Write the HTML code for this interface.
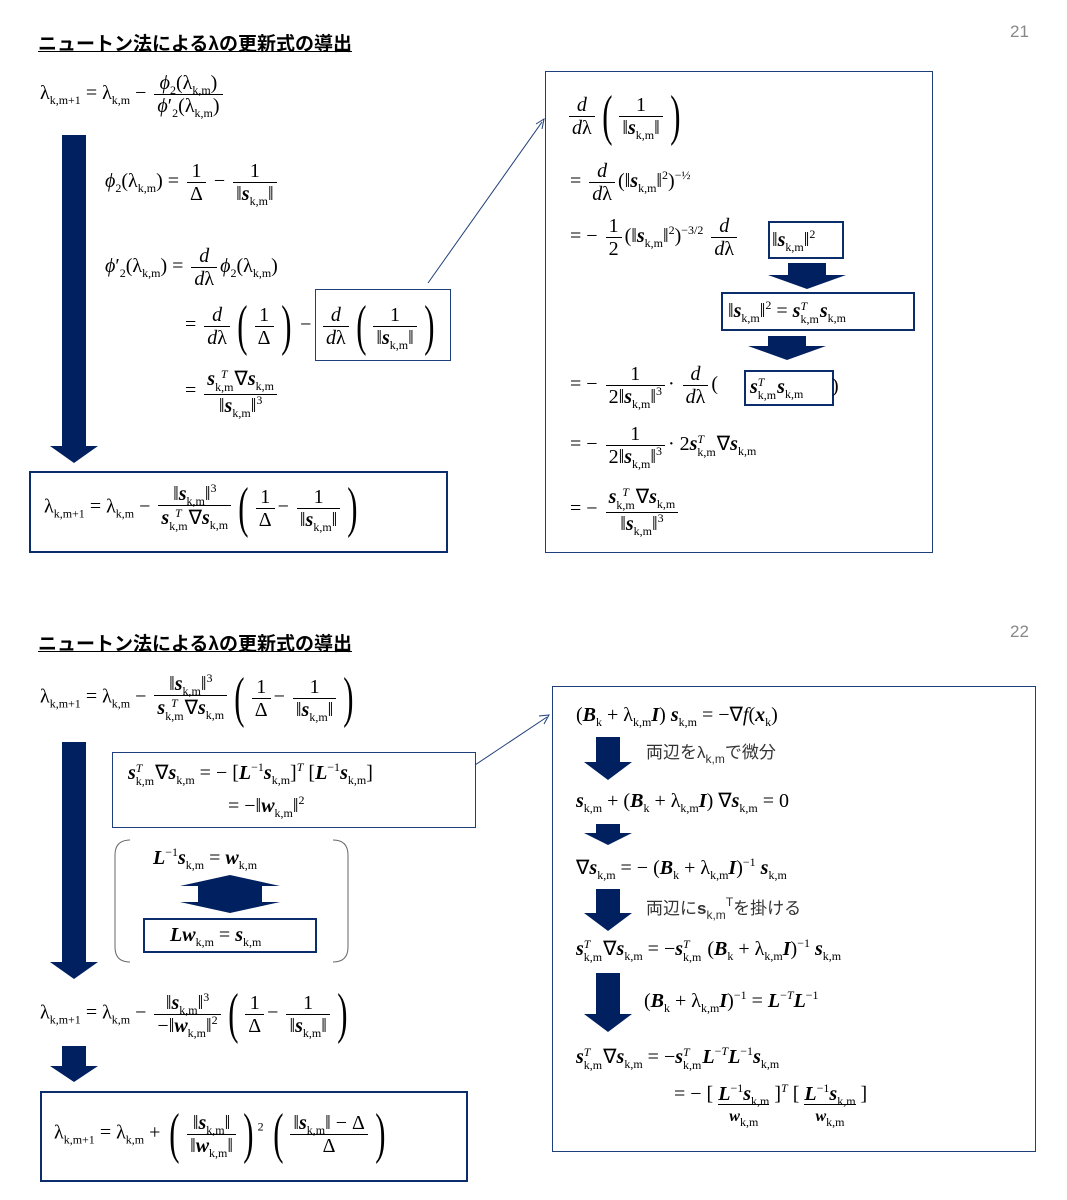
<!DOCTYPE html>
<html><head><meta charset="utf-8"><style>
body{margin:0;width:1067px;height:1200px;background:#fff;position:relative;overflow:hidden;font-family:"Liberation Serif",serif;color:#000}
.a{position:absolute;white-space:nowrap;font-size:20px;line-height:1}
.t{position:absolute;font-family:"Liberation Sans","Noto Sans CJK JP",sans-serif;font-weight:bold;font-size:19px;text-decoration:underline;white-space:nowrap}
.pg{position:absolute;font-family:"Liberation Sans",sans-serif;font-size:17px;color:#888}
sub{font-size:12px;vertical-align:-5px;line-height:0}
sup{font-size:12px;vertical-align:8px;line-height:0}
.ss{display:inline-flex;flex-direction:column;font-size:12px;vertical-align:middle;line-height:1.05;margin-right:1px}
.fr{display:inline-flex;flex-direction:column;vertical-align:middle;text-align:center;margin:0 3px}
.fr>span{display:block;padding:1px 3px}
.fr>span:first-child{border-bottom:1px solid #000}
.bp{font-size:56px;vertical-align:middle;font-weight:100;transform:scaleX(.55);display:inline-block;line-height:1}
.bx{position:absolute;border:2px solid #0b2d6b}
.tb{position:absolute;border:1px solid #1f3f7a}
b i,i b{font-weight:bold}
.jp{font-family:"Liberation Sans","Noto Sans CJK JP",sans-serif;font-size:17px;color:#333}
</style></head><body>
<div class="t" style="left:38px;top:29px">ニュートン法によるλの更新式の導出</div>
<div class="pg" style="left:1010px;top:22px">21</div>

<div class="a" style="left:40px;top:72px">λ<sub>k,m+1</sub> = λ<sub>k,m</sub> − <span class="fr"><span><i>ϕ</i><sub>2</sub>(λ<sub>k,m</sub>)</span><span><i>ϕ</i>′<sub>2</sub>(λ<sub>k,m</sub>)</span></span></div>

<svg style="position:absolute;left:0;top:0" width="1067" height="1200">
<g fill="#002060">
<rect x="62" y="135" width="24" height="312"/><polygon points="50,446 98,446 74,463"/>
<rect x="62" y="742" width="24" height="222"/><polygon points="50,962 98,962 74,979"/>
<rect x="62" y="1046" width="24" height="22"/><polygon points="50,1066 98,1066 74,1082"/>
<rect x="788" y="263" width="38" height="12"/><polygon points="768,275 846,275 807,289"/>
<rect x="768" y="336" width="38" height="10"/><polygon points="748,346 826,346 787,360"/>
<polygon points="180,886 230,875 280,886 262,886 262,902 280,902 230,913 180,902 198,902 198,886"/>
<rect x="596" y="737" width="24" height="26"/><polygon points="584,762 632,762 608,780"/>
<rect x="596" y="824" width="24" height="10"/><polygon points="584,833 632,833 608,845"/>
<rect x="596" y="889" width="24" height="26"/><polygon points="584,913 632,913 608,931"/>
<rect x="596" y="973" width="24" height="42"/><polygon points="584,1014 632,1014 608,1032"/>
</g>
<g stroke="#1f3f7a" fill="none">
<line x1="428" y1="283" x2="542" y2="122"/><polyline points="536,124 544,119 542,129"/>
<line x1="475" y1="765" x2="547" y2="717"/><polyline points="539,716 549,715 544,724"/>
<path d="M130,840 Q115,840 115,855 L115,947 Q115,962 130,962" stroke="#666"/>
<path d="M333,840 Q348,840 348,855 L348,947 Q348,962 333,962" stroke="#666"/>
</g>
</svg>

<div class="a" style="left:105px;top:160px"><i>ϕ</i><sub>2</sub>(λ<sub>k,m</sub>) = <span class="fr"><span>1</span><span>Δ</span></span> − <span class="fr"><span>1</span><span>‖<b><i>s</i></b><sub>k,m</sub>‖</span></span></div>
<div class="a" style="left:105px;top:245px"><i>ϕ</i>′<sub>2</sub>(λ<sub>k,m</sub>) = <span class="fr"><span><i>d</i></span><span><i>d</i>λ</span></span><i>ϕ</i><sub>2</sub>(λ<sub>k,m</sub>)</div>
<div class="a" style="left:185px;top:298px">= <span class="fr"><span><i>d</i></span><span><i>d</i>λ</span></span><span class="bp">(</span><span class="fr"><span>1</span><span>Δ</span></span><span class="bp">)</span> −</div>
<div class="tb" style="left:315px;top:289px;width:134px;height:70px"></div>
<div class="a" style="left:320px;top:298px"><span class="fr"><span><i>d</i></span><span><i>d</i>λ</span></span><span class="bp">(</span><span class="fr"><span>1</span><span>‖<b><i>s</i></b><sub>k,m</sub>‖</span></span><span class="bp">)</span></div>
<div class="a" style="left:185px;top:367px">= <span class="fr"><span><b><i>s</i></b><span class="ss"><i>T</i><span>k,m</span></span>∇<b><i>s</i></b><sub>k,m</sub></span><span>‖<b><i>s</i></b><sub>k,m</sub>‖<sup>3</sup></span></span></div>

<div class="bx" style="left:29px;top:471px;width:415px;height:78px"></div>
<div class="a" style="left:44px;top:480px">λ<sub>k,m+1</sub> = λ<sub>k,m</sub> − <span class="fr"><span>‖<b><i>s</i></b><sub>k,m</sub>‖<sup>3</sup></span><span><b><i>s</i></b><span class="ss"><i>T</i><span>k,m</span></span>∇<b><i>s</i></b><sub>k,m</sub></span></span><span class="bp">(</span><span class="fr"><span>1</span><span>Δ</span></span>− <span class="fr"><span>1</span><span>‖<b><i>s</i></b><sub>k,m</sub>‖</span></span><span class="bp">)</span></div>

<div class="tb" style="left:545px;top:71px;width:386px;height:480px"></div>
<div class="a" style="left:566px;top:88px"><span class="fr"><span><i>d</i></span><span><i>d</i>λ</span></span><span class="bp">(</span><span class="fr"><span>1</span><span>‖<b><i>s</i></b><sub>k,m</sub>‖</span></span><span class="bp">)</span></div>
<div class="a" style="left:570px;top:160px">= <span class="fr"><span><i>d</i></span><span><i>d</i>λ</span></span>(‖<b><i>s</i></b><sub>k,m</sub>‖<sup>2</sup>)<sup>−½</sup></div>
<div class="a" style="left:570px;top:215px">= − <span class="fr"><span>1</span><span>2</span></span>(‖<b><i>s</i></b><sub>k,m</sub>‖<sup>2</sup>)<sup>−3/2</sup> <span class="fr"><span><i>d</i></span><span><i>d</i>λ</span></span></div>
<div class="bx" style="left:768px;top:221px;width:72px;height:34px"></div>
<div class="a" style="left:772px;top:230px">‖<b><i>s</i></b><sub>k,m</sub>‖<sup>2</sup></div>
<div class="bx" style="left:721px;top:292px;width:190px;height:35px"></div>
<div class="a" style="left:728px;top:300px">‖<b><i>s</i></b><sub>k,m</sub>‖<sup>2</sup> = <b><i>s</i></b><span class="ss"><i>T</i><span>k,m</span></span><b><i>s</i></b><sub>k,m</sub></div>
<div class="a" style="left:570px;top:363px">= − <span class="fr"><span>1</span><span>2‖<b><i>s</i></b><sub>k,m</sub>‖<sup>3</sup></span></span>· <span class="fr"><span><i>d</i></span><span><i>d</i>λ</span></span>(</div>
<div class="bx" style="left:744px;top:370px;width:86px;height:32px"></div>
<div class="a" style="left:750px;top:376px"><b><i>s</i></b><span class="ss"><i>T</i><span>k,m</span></span><b><i>s</i></b><sub>k,m</sub></div>
<div class="a" style="left:832px;top:376px">)</div>
<div class="a" style="left:570px;top:423px">= − <span class="fr"><span>1</span><span>2‖<b><i>s</i></b><sub>k,m</sub>‖<sup>3</sup></span></span>· 2<b><i>s</i></b><span class="ss"><i>T</i><span>k,m</span></span>∇<b><i>s</i></b><sub>k,m</sub></div>
<div class="a" style="left:570px;top:485px">= − <span class="fr"><span><b><i>s</i></b><span class="ss"><i>T</i><span>k,m</span></span>∇<b><i>s</i></b><sub>k,m</sub></span><span>‖<b><i>s</i></b><sub>k,m</sub>‖<sup>3</sup></span></span></div>

<!-- slide 22 -->
<div class="t" style="left:38px;top:629px">ニュートン法によるλの更新式の導出</div>
<div class="pg" style="left:1010px;top:622px">22</div>
<div class="a" style="left:40px;top:670px">λ<sub>k,m+1</sub> = λ<sub>k,m</sub> − <span class="fr"><span>‖<b><i>s</i></b><sub>k,m</sub>‖<sup>3</sup></span><span><b><i>s</i></b><span class="ss"><i>T</i><span>k,m</span></span>∇<b><i>s</i></b><sub>k,m</sub></span></span><span class="bp">(</span><span class="fr"><span>1</span><span>Δ</span></span>− <span class="fr"><span>1</span><span>‖<b><i>s</i></b><sub>k,m</sub>‖</span></span><span class="bp">)</span></div>
<div class="tb" style="left:112px;top:752px;width:362px;height:74px"></div>
<div class="a" style="left:128px;top:762px"><b><i>s</i></b><span class="ss"><i>T</i><span>k,m</span></span>∇<b><i>s</i></b><sub>k,m</sub> = − [<b><i>L</i></b><sup>−1</sup><b><i>s</i></b><sub>k,m</sub>]<sup><i>T</i></sup> [<b><i>L</i></b><sup>−1</sup><b><i>s</i></b><sub>k,m</sub>]</div>
<div class="a" style="left:228px;top:796px">= −‖<b><i>w</i></b><sub>k,m</sub>‖<sup>2</sup></div>
<div class="a" style="left:153px;top:848px"><b><i>L</i></b><sup>−1</sup><b><i>s</i></b><sub>k,m</sub> = <b><i>w</i></b><sub>k,m</sub></div>
<div class="bx" style="left:143px;top:918px;width:170px;height:31px"></div>
<div class="a" style="left:170px;top:925px"><b><i>Lw</i></b><sub>k,m</sub> = <b><i>s</i></b><sub>k,m</sub></div>
<div class="a" style="left:40px;top:986px">λ<sub>k,m+1</sub> = λ<sub>k,m</sub> − <span class="fr"><span>‖<b><i>s</i></b><sub>k,m</sub>‖<sup>3</sup></span><span>−‖<b><i>w</i></b><sub>k,m</sub>‖<sup>2</sup></span></span><span class="bp">(</span><span class="fr"><span>1</span><span>Δ</span></span>− <span class="fr"><span>1</span><span>‖<b><i>s</i></b><sub>k,m</sub>‖</span></span><span class="bp">)</span></div>
<div class="bx" style="left:40px;top:1091px;width:424px;height:87px"></div>
<div class="a" style="left:54px;top:1106px">λ<sub>k,m+1</sub> = λ<sub>k,m</sub> + <span class="bp">(</span><span class="fr"><span>‖<b><i>s</i></b><sub>k,m</sub>‖</span><span>‖<b><i>w</i></b><sub>k,m</sub>‖</span></span><span class="bp">)</span><sup>2</sup> <span class="bp">(</span><span class="fr"><span>‖<b><i>s</i></b><sub>k,m</sub>‖ − Δ</span><span>Δ</span></span><span class="bp">)</span></div>

<div class="tb" style="left:552px;top:686px;width:482px;height:464px"></div>
<div class="a" style="left:576px;top:705px">(<b><i>B</i></b><sub>k</sub> + λ<sub>k,m</sub><b><i>I</i></b>) <b><i>s</i></b><sub>k,m</sub> = −∇<i>f</i>(<b><i>x</i></b><sub>k</sub>)</div>
<div class="a jp" style="left:646px;top:744px">両辺をλ<sub>k,m</sub>で微分</div>
<div class="a" style="left:576px;top:791px"><b><i>s</i></b><sub>k,m</sub> + (<b><i>B</i></b><sub>k</sub> + λ<sub>k,m</sub><b><i>I</i></b>) ∇<b><i>s</i></b><sub>k,m</sub> = 0</div>
<div class="a" style="left:576px;top:858px">∇<b><i>s</i></b><sub>k,m</sub> = − (<b><i>B</i></b><sub>k</sub> + λ<sub>k,m</sub><b><i>I</i></b>)<sup>−1</sup> <b><i>s</i></b><sub>k,m</sub></div>
<div class="a jp" style="left:646px;top:900px">両辺に<b>s</b><sub>k,m</sub><sup>T</sup>を掛ける</div>
<div class="a" style="left:576px;top:938px"><b><i>s</i></b><span class="ss"><i>T</i><span>k,m</span></span>∇<b><i>s</i></b><sub>k,m</sub> = −<b><i>s</i></b><span class="ss"><i>T</i><span>k,m</span></span> (<b><i>B</i></b><sub>k</sub> + λ<sub>k,m</sub><b><i>I</i></b>)<sup>−1</sup> <b><i>s</i></b><sub>k,m</sub></div>
<div class="a" style="left:644px;top:991px">(<b><i>B</i></b><sub>k</sub> + λ<sub>k,m</sub><b><i>I</i></b>)<sup>−1</sup> = <b><i>L</i></b><sup>−<i>T</i></sup><b><i>L</i></b><sup>−1</sup></div>
<div class="a" style="left:576px;top:1046px"><b><i>s</i></b><span class="ss"><i>T</i><span>k,m</span></span>∇<b><i>s</i></b><sub>k,m</sub> = −<b><i>s</i></b><span class="ss"><i>T</i><span>k,m</span></span><b><i>L</i></b><sup>−<i>T</i></sup><b><i>L</i></b><sup>−1</sup><b><i>s</i></b><sub>k,m</sub></div>
<div class="a" style="left:674px;top:1084px">= − [ <span style="display:inline-block;text-align:center;vertical-align:top"><span style="display:block;border-bottom:1px solid #000"><b><i>L</i></b><sup>−1</sup><b><i>s</i></b><sub>k,m</sub></span><span style="display:block;font-size:16px;margin-top:4px"><b><i>w</i></b><sub>k,m</sub></span></span> ]<sup><i>T</i></sup> [ <span style="display:inline-block;text-align:center;vertical-align:top"><span style="display:block;border-bottom:1px solid #000"><b><i>L</i></b><sup>−1</sup><b><i>s</i></b><sub>k,m</sub></span><span style="display:block;font-size:16px;margin-top:4px"><b><i>w</i></b><sub>k,m</sub></span></span> ]</div>
</body></html>
